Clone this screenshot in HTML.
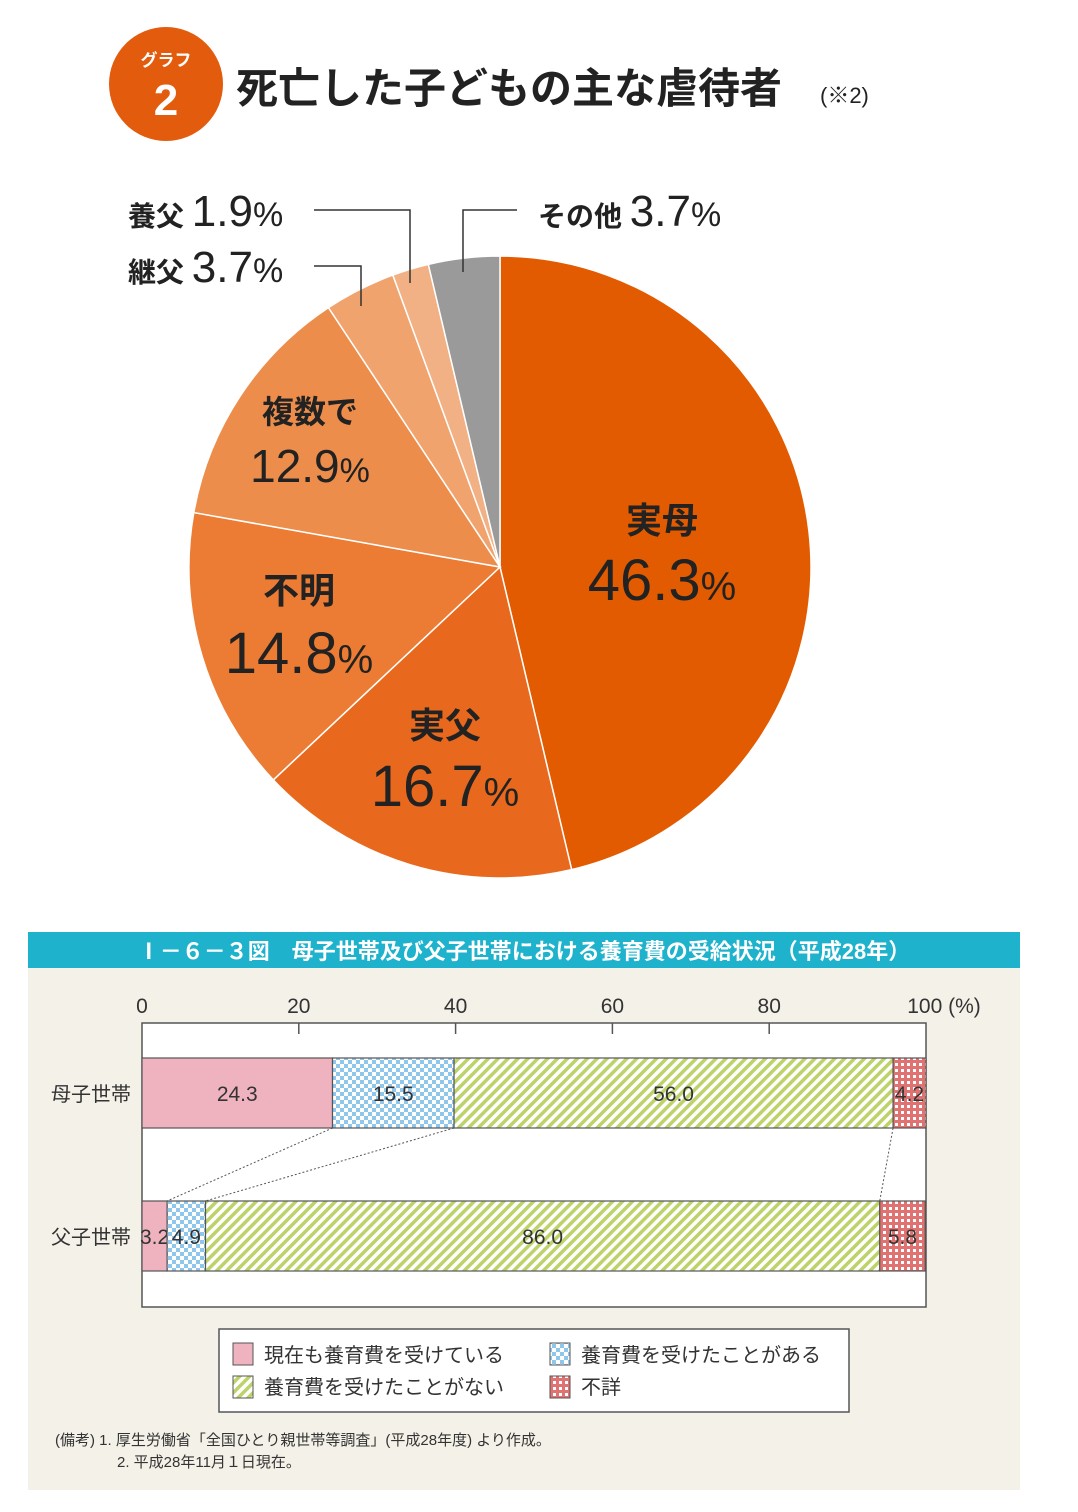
<!DOCTYPE html>
<html><head><meta charset="utf-8">
<style>
body{margin:0;width:1078px;height:1512px;background:#fff;font-family:"Liberation Sans","Noto Sans CJK JP",sans-serif;overflow:hidden}
svg{display:block}
</style></head>
<body>
<svg width="1078" height="1512" xmlns="http://www.w3.org/2000/svg">
<defs>
<pattern id="pBlue" width="8" height="8" patternUnits="userSpaceOnUse"><rect width="8" height="8" fill="#fff"/><rect width="4" height="4" fill="#8fc6ec"/><rect x="4" y="4" width="4" height="4" fill="#8fc6ec"/></pattern>
<pattern id="pGreen" width="7" height="7" patternUnits="userSpaceOnUse" patternTransform="rotate(45)"><rect width="7" height="7" fill="#fff"/><rect width="3.5" height="7" fill="#bcd36a"/></pattern>
<pattern id="pRed" width="6" height="6" patternUnits="userSpaceOnUse"><rect width="6" height="6" fill="#e07272"/><rect x="1" y="1" width="3" height="3" fill="#fff"/></pattern>
</defs>

<g>
<circle cx="166" cy="84" r="57" fill="#e35b0c"/>
<text x="166" y="66" font-size="17" fill="#fff" text-anchor="middle" font-weight="bold">グラフ</text>
<text x="166" y="115" font-size="44" fill="#fff" text-anchor="middle" font-weight="bold">2</text>
<text x="236" y="103" font-size="42" font-weight="bold" fill="#222">死亡した子どもの主な虐待者</text>
<text x="820" y="103" font-size="22" fill="#222">(※2)</text>
</g>

<g id="pie"></g>
<g id="pielabels">
<text x="662" y="533" font-size="36" text-anchor="middle" fill="#222" font-weight="bold">実母</text>
<text x="662" y="600" font-size="58" text-anchor="middle" fill="#222">46.3<tspan font-size="40">%</tspan></text>
<text x="445" y="738" font-size="36" text-anchor="middle" fill="#222" font-weight="bold">実父</text>
<text x="445" y="806" font-size="58" text-anchor="middle" fill="#222">16.7<tspan font-size="40">%</tspan></text>
<text x="299" y="603" font-size="36" text-anchor="middle" fill="#222" font-weight="bold">不明</text>
<text x="299" y="673" font-size="58" text-anchor="middle" fill="#222">14.8<tspan font-size="40">%</tspan></text>
<text x="310" y="423" font-size="32" text-anchor="middle" fill="#222" font-weight="bold">複数で</text>
<text x="310" y="482" font-size="46" text-anchor="middle" fill="#222">12.9<tspan font-size="34">%</tspan></text>
<text x="128" y="226" font-size="28" fill="#222" font-weight="bold">養父 <tspan font-size="44" font-weight="normal">1.9</tspan><tspan font-size="34" font-weight="normal">%</tspan></text>
<text x="128" y="282" font-size="28" fill="#222" font-weight="bold">継父 <tspan font-size="44" font-weight="normal">3.7</tspan><tspan font-size="34" font-weight="normal">%</tspan></text>
<text x="538" y="226" font-size="28" fill="#222" font-weight="bold">その他 <tspan font-size="44" font-weight="normal">3.7</tspan><tspan font-size="34" font-weight="normal">%</tspan></text>
<polyline points="314,210 410,210 410,283" fill="none" stroke="#333" stroke-width="1.5"/>
<polyline points="314,266 361,266 361,306" fill="none" stroke="#333" stroke-width="1.5"/>
<polyline points="517,210 463,210 463,272" fill="none" stroke="#333" stroke-width="1.5"/>
</g>

<g>
<rect x="28" y="968" width="992" height="522" fill="#f4f1e8"/>
<rect x="28" y="932" width="992" height="36" fill="#1fb2cc"/>
<text x="524" y="959" font-size="22" fill="#fff" text-anchor="middle" font-weight="bold">Ⅰ－６－３図　母子世帯及び父子世帯における養育費の受給状況（平成28年）</text>
<rect x="142" y="1023" width="784" height="284" fill="#fff" stroke="#555" stroke-width="1.5"/>
<g id="axis"></g>
<g id="bars"></g>
</g>

<g>
<rect x="219" y="1329" width="630" height="83" fill="#fff" stroke="#555" stroke-width="1.5"/>
<rect x="233" y="1343" width="20" height="22" fill="#efb3c0" stroke="#555"/>
<text x="264" y="1362" font-size="20" fill="#333">現在も養育費を受けている</text>
<rect x="550" y="1343" width="20" height="22" fill="url(#pBlue)" stroke="#555"/>
<text x="581" y="1362" font-size="20" fill="#333">養育費を受けたことがある</text>
<rect x="233" y="1376" width="20" height="22" fill="url(#pGreen)" stroke="#555"/>
<text x="264" y="1394" font-size="20" fill="#333">養育費を受けたことがない</text>
<rect x="550" y="1376" width="20" height="22" fill="url(#pRed)" stroke="#555"/>
<text x="581" y="1394" font-size="20" fill="#333">不詳</text>
</g>
<g font-size="15" fill="#333">
<text x="55" y="1445">(備考) 1. 厚生労働省「全国ひとり親世帯等調査」(平成28年度) より作成。</text>
<text x="117" y="1467">2. 平成28年11月１日現在。</text>
</g>
</svg>
<script>
const NS="http://www.w3.org/2000/svg";
// pie data
const pieLabels=["実母","実父","不明","複数で","継父","養父","その他"];
const pieValues=[46.3,16.7,14.8,12.9,3.7,1.9,3.7];
const pieColors=["#e35b00","#e8691e","#ec7c33","#ed8d4c","#f0a36c","#f2b184","#9a9a9a"];
// bar data
const barCategories=["母子世帯","父子世帯"];
const seriesNow=[24.3,3.2];
const seriesPast=[15.5,4.9];
const seriesNever=[56.0,86.0];
const seriesUnknown=[4.2,5.8];
const tickLabels=["0","20","40","60","80","100 (%)"];
const tickValues=[0,20,40,60,80,100];

const cx=500,cy=567,R=311;
const pie=document.getElementById('pie');
const total=pieValues.reduce((a,b)=>a+b,0);
let acc=0;
function pt(f){const a=f*2*Math.PI;return [cx+R*Math.sin(a),cy-R*Math.cos(a)];}
pieValues.forEach((v,i)=>{
  const f0=acc/total; acc+=v; const f1=acc/total;
  const [x0,y0]=pt(f0),[x1,y1]=pt(f1);
  const p=document.createElementNS(NS,'path');
  p.setAttribute('d',`M${cx},${cy}L${x0},${y0}A${R},${R} 0 ${f1-f0>0.5?1:0} 1 ${x1},${y1}Z`);
  p.setAttribute('fill',pieColors[i]);p.setAttribute('stroke','#fff');p.setAttribute('stroke-width','1.5');
  
  
  pie.appendChild(p);
});

const X0=142,X1=926;
const xs=v=>X0+(X1-X0)*v/100;
const axis=document.getElementById('axis');
tickValues.forEach((t,i)=>{
  const tx=document.createElementNS(NS,'text');
  tx.setAttribute('x',xs(t)+(i==5?18:0));tx.setAttribute('y',1013);tx.setAttribute('font-size','21');
  tx.setAttribute('text-anchor','middle');tx.setAttribute('fill','#333');tx.textContent=tickLabels[i];
  
  
  axis.appendChild(tx);
  if(i>0&&i<5){const l=document.createElementNS(NS,'line');
  l.setAttribute('x1',xs(t));l.setAttribute('x2',xs(t));l.setAttribute('y1',1023);l.setAttribute('y2',1034);l.setAttribute('stroke','#555');l.setAttribute('stroke-width','1.5');
  
  
  axis.appendChild(l);}
});
const bars=document.getElementById('bars');
const barY=[1058,1201],barH=70;
const fills=["#efb3c0","url(#pBlue)","url(#pGreen)","url(#pRed)"];
const sers=[seriesNow,seriesPast,seriesNever,seriesUnknown];
const names=["now","past","never","unknown"];
const edges=[];
barCategories.forEach((c,ci)=>{
  let s=0;const e=[];
  sers.forEach((ser,si)=>{
    const v=ser[ci];
    const r=document.createElementNS(NS,'rect');
    r.setAttribute('x',xs(s));r.setAttribute('y',barY[ci]);r.setAttribute('width',xs(s+v)-xs(s));r.setAttribute('height',barH);
    r.setAttribute('fill',fills[si]);r.setAttribute('stroke','#555');r.setAttribute('stroke-width','1.2');
    
    
    bars.appendChild(r);
    const t=document.createElementNS(NS,'text');
    t.setAttribute('x',xs(s+v/2));t.setAttribute('y',barY[ci]+barH/2+8);t.setAttribute('font-size','21');
    t.setAttribute('text-anchor','middle');t.setAttribute('fill','#333');t.textContent=v.toFixed(1);
    
    
    bars.appendChild(t);
    s+=v;e.push(s);
  });
  edges.push(e);
  const l=document.createElementNS(NS,'text');
  l.setAttribute('x',131);l.setAttribute('y',barY[ci]+barH/2+8);l.setAttribute('font-size','20');
  l.setAttribute('text-anchor','end');l.setAttribute('fill','#333');l.textContent=c;
  
  
  bars.appendChild(l);
});
[0,1,2].forEach(k=>{
  const l=document.createElementNS(NS,'line');
  l.setAttribute('x1',xs(edges[0][k]));l.setAttribute('y1',barY[0]+barH);
  l.setAttribute('x2',xs(edges[1][k]));l.setAttribute('y2',barY[1]);
  l.setAttribute('stroke','#555');l.setAttribute('stroke-dasharray','2,2');
  
  
  bars.appendChild(l);
});
</script>
</body></html>
